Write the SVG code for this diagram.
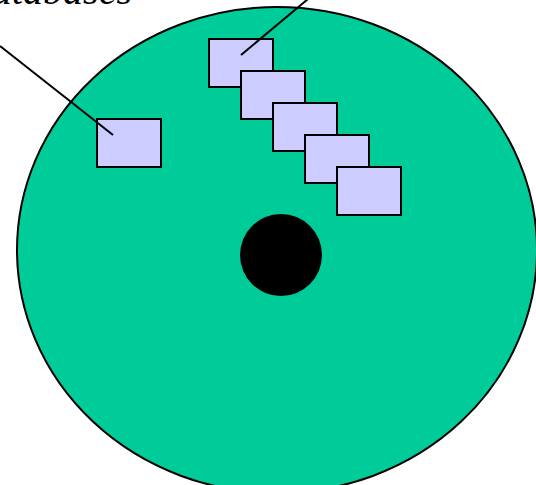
<svg xmlns="http://www.w3.org/2000/svg" width="536" height="485" viewBox="0 0 536 485">
<style>
.blk{fill:#ccccff;stroke:#000;stroke-width:2}
.lbl{font-family:"Liberation Serif",serif;font-style:italic;font-size:40px;fill:#000}
.con{stroke:#000;stroke-width:2;fill:none}
</style>
<rect width="536" height="485" fill="#fff"/>
<g id="disk">
<ellipse cx="277" cy="250" rx="260" ry="243" fill="#00cc99" stroke="#000" stroke-width="2"/>
<circle cx="281" cy="255" r="41" fill="#000"/>
</g>
<g id="label">
<text class="lbl" x="132" y="4" text-anchor="end">Databases</text>
</g>
<g id="block-single"><rect class="blk" x="97" y="119" width="64" height="48"/></g>
<g id="block-1"><rect class="blk" x="209" y="39" width="64" height="48"/></g>
<g id="block-2"><rect class="blk" x="241" y="71" width="64" height="48"/></g>
<g id="block-3"><rect class="blk" x="273" y="103" width="64" height="48"/></g>
<g id="block-4"><rect class="blk" x="305" y="135" width="64" height="48"/></g>
<g id="block-5"><rect class="blk" x="337" y="167" width="64" height="48"/></g>
<g id="connectors">
<line class="con" x1="0" y1="46" x2="113" y2="135"/>
<line class="con" x1="241" y1="55" x2="308" y2="-1"/>
</g>
</svg>
